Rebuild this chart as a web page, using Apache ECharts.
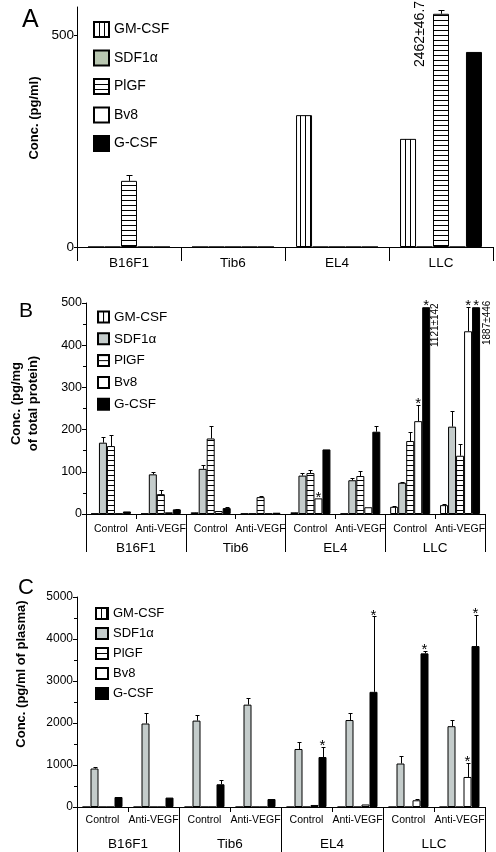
<!DOCTYPE html>
<html><head><meta charset="utf-8">
<script src="https://cdn.jsdelivr.net/npm/echarts@6/dist/echarts.min.js"></script>
<style>
html,body{margin:0;padding:0;background:#fff;width:496px;height:852px;overflow:hidden}
.p{position:absolute;left:0;width:496px}
#a{top:0;height:285px}
#b{top:285px;height:285px}
#c{top:570px;height:282px}
</style></head><body>
<div id="a" class="p"></div><div id="b" class="p"></div><div id="c" class="p"></div>
<script>
const FONT = "'Liberation Sans', Arial, sans-serif";
const seriesNames = ['GM-CSF', 'SDF1α', 'PlGF', 'Bv8', 'G-CSF'];
const cellLines = ['B16F1', 'Tib6', 'EL4', 'LLC'];
const treatments = ['Control', 'Anti-VEGF'];

// Panel A: Conc. (pg/ml)
const aGMCSF = [0, 0, 311, 255];
const aSDF1a = [0, 0, 0, 0];
const aPlGF = [156, 0, 0, 550];
const aBv8 = [0, 0, 0, 0];
const aGCSF = [0, 0, 0, 460];
const aPlGFErr = [170, null, null, 559];
const aTicks = [0, 500];
const aNote = '2462±46.7';

// Panel B: Conc. (pg/mg of total protein); order per cell line: Control, Anti-VEGF
const bGMCSF = [1, 1, 4, 1, 4, 1, 17, 21];
const bSDF1a = [169, 94, 107, 1, 91, 80, 74, 207];
const bPlGF = [161, 47, 179, 40, 97, 90, 173, 138];
const bBv8 = [1, 4, 7, 1, 37, 16, 220, 433];
const bGCSF = [6, 11, 14, 3, 153, 195, 490, 490];
const bGMCSFErr = [null, null, null, null, null, null, 18, 23];
const bSDF1aErr = [182, 100, 116, null, 96, 86, 76, 243];
const bPlGFErr = [187, 57, 209, 42, 104, 103, 194, 165];
const bBv8Err = [null, null, null, null, null, null, 258, 490];
const bGCSFErr = [null, 13, 16, null, null, 209, null, null];
// [series index, category index, anchor value]
const bStars = [[3, 4, 37], [3, 6, 258], [4, 6, 490], [3, 7, 490], [4, 7, 490]];
const bNotes = ['1121±142', '1887±446'];

// Panel C: Conc. (pg/ml of plasma)
const cGMCSF = [0, 0, 0, 0, 0, 0, 0, 0];
const cSDF1a = [916, 1988, 2057, 2437, 1381, 2071, 1035, 1924];
const cPlGF = [0, 0, 0, 0, 0, 0, 0, 0];
const cBv8 = [0, 0, 0, 0, 48, 60, 160, 715];
const cGCSF = [238, 224, 541, 190, 1190, 2742, 3658, 3832];
const cSDF1aErr = [954, 2238, 2191, 2588, 1540, 2230, 1209, 2060];
const cBv8Err = [null, null, null, null, null, null, 184, 1042];
const cGCSFErr = [250, null, 653, null, 1429, 4537, 3720, 4578];
const cStars = [[4, 4, 1429], [4, 5, 4537], [4, 6, 3720], [3, 7, 1042], [4, 7, 4578]];

const subCats = [];
cellLines.forEach(c => treatments.forEach(t => subCats.push(c + '|' + t)));

function stripe(dir, pitch) {
  const c = document.createElement('canvas');
  c.width = pitch; c.height = pitch;
  const g = c.getContext('2d');
  g.fillStyle = '#fff'; g.fillRect(0, 0, pitch, pitch);
  g.fillStyle = '#000';
  if (dir === 'v') g.fillRect(0, 0, 1, pitch); else g.fillRect(0, 0, pitch, 1);
  return { image: c, repeat: 'repeat' };
}
function styles(sdfColor, pitch) {
  return [
    { color: stripe('v', pitch), borderColor: '#000', borderWidth: 1 },
    { color: sdfColor, borderColor: '#000', borderWidth: 1 },
    { color: stripe('h', pitch), borderColor: '#000', borderWidth: 1 },
    { color: '#fff', borderColor: '#000', borderWidth: 1 },
    { color: '#000', borderColor: '#000', borderWidth: 1 }
  ];
}
function bars(values, st, bw, gap) {
  return values.map((d, i) => ({
    name: seriesNames[i], type: 'bar', data: d, barWidth: bw, barGap: gap,
    itemStyle: st[i], emphasis: { disabled: true }, z: 2
  }));
}
function errBars(sIdx, tops, vals, bw, gapFrac, cap) {
  const data = [];
  tops.forEach((t, i) => { if (t != null) data.push([i, t, vals[i]]); });
  const off = (sIdx - 2) * bw * (1 + gapFrac);
  return {
    type: 'custom', silent: true, z: 3, data,
    renderItem(p, api) {
      const top = api.coord([api.value(0), api.value(1)]);
      const base = api.coord([api.value(0), api.value(2)]);
      const x = Math.round(top[0] + off) + 0.5;
      const y = Math.round(top[1]) + 0.5;
      return { type: 'group', children: [
        { type: 'line', shape: { x1: x, y1: base[1], x2: x, y2: y }, style: { stroke: '#000', lineWidth: 1 } },
        { type: 'line', shape: { x1: x - cap, y1: y, x2: x + cap, y2: y }, style: { stroke: '#000', lineWidth: 1 } }
      ] };
    }
  };
}
function stars(list, bw, gapFrac, fs) {
  return {
    type: 'custom', silent: true, z: 4, data: list.map(s => [s[1], s[2], s[0]]),
    renderItem(p, api) {
      const pt = api.coord([api.value(0), api.value(1)]);
      const off = (api.value(2) - 2) * bw * (1 + gapFrac);
      return { type: 'text', x: pt[0] + off, y: pt[1] - 1,
        style: { text: '*', fontSize: fs, fontFamily: FONT, fill: '#000', align: 'center', verticalAlign: 'middle' } };
    }
  };
}
function rotText(text, x, y, fs) {
  return { type: 'text', x, y, rotation: Math.PI / 2,
    style: { text, fontSize: fs, fontFamily: FONT, fill: '#000', align: 'left', verticalAlign: 'middle' } };
}
const black = { color: '#000' };
const plain = v => String(v);

// ---------- Panel A ----------
const stA = styles('#b9c7b1', 5);
const optA = {
  animation: false,
  textStyle: { fontFamily: FONT },
  title: { text: 'A', left: 17, top: 3, textStyle: { fontSize: 25, fontWeight: 'normal', color: '#000', fontFamily: FONT } },
  legend: { orient: 'vertical', left: 88, top: 16, itemWidth: 15, itemHeight: 15, itemGap: 11.5, icon: 'rect',
    selectedMode: false, data: seriesNames, textStyle: { fontSize: 14, color: '#000', fontFamily: FONT } },
  grid: { left: 77, right: 3, top: 7, bottom: 38 },
  xAxis: { type: 'category', data: cellLines,
    axisLine: { show: true, lineStyle: black }, axisTick: { show: true, length: 14, lineStyle: black },
    axisLabel: { color: '#000', fontSize: 13.5, margin: 9 } },
  yAxis: { type: 'value', min: 0, max: 566, interval: 500, splitLine: { show: false },
    axisLine: { show: true, lineStyle: black },
    axisTick: { show: true, length: 3, customValues: aTicks, lineStyle: black },
    axisLabel: { color: '#000', fontSize: 13.5, margin: 3, customValues: aTicks, formatter: plain },
    name: 'Conc. (pg/ml)', nameLocation: 'middle', nameGap: 24,
    nameTextStyle: { fontWeight: 'bold', fontSize: 13, color: '#000', padding: [0, 0, 0, 18] } },
  series: [
    ...bars([aGMCSF, aSDF1a, aPlGF, aBv8, aGCSF], stA, 16, '3%'),
    errBars(2, aPlGFErr, aPlGF, 16, 0.03, 3)
  ],
  graphic: [rotText(aNote, 420, 67, 14)]
};

// ---------- Panel B ----------
const stB = styles('#c4cccb', 5);
function twoLevelX(subFs, subMargin, outerLen, outerMargin) {
  return [
    { type: 'category', data: subCats, axisLine: { show: true, lineStyle: black },
      axisTick: { show: true, length: 5, interval: 0, lineStyle: black },
      axisLabel: { interval: 0, color: '#000', fontSize: subFs, margin: subMargin, formatter: v => v.split('|')[1] } },
    { type: 'category', data: cellLines, position: 'bottom', axisLine: { show: false },
      axisTick: { show: true, length: outerLen, lineStyle: black },
      axisLabel: { color: '#000', fontSize: 13.5, margin: outerMargin } }
  ];
}
const optB = {
  animation: false,
  textStyle: { fontFamily: FONT },
  title: { text: 'B', left: 14, top: 11, textStyle: { fontSize: 21, fontWeight: 'normal', color: '#000', fontFamily: FONT } },
  legend: { orient: 'vertical', left: 92, top: 20, itemWidth: 11, itemHeight: 11, itemGap: 7.8, icon: 'rect',
    selectedMode: false, data: seriesNames, textStyle: { fontSize: 13.5, color: '#000', fontFamily: FONT } },
  grid: { left: 77, right: 11, top: 18, bottom: 56 },
  xAxis: twoLevelX(10.5, 10, 38, 27),
  yAxis: { type: 'value', min: 0, max: 500, interval: 100, splitLine: { show: false },
    axisLine: { show: true, lineStyle: black },
    axisTick: { show: true, length: 4, lineStyle: black },
    minorTick: { show: true, splitNumber: 2, length: 3, lineStyle: black },
    axisLabel: { color: '#000', fontSize: 12.5, margin: 4, formatter: plain },
    name: 'Conc. (pg/mg\nof total protein)', nameLocation: 'middle', nameGap: 44,
    nameTextStyle: { fontWeight: 'bold', fontSize: 13, lineHeight: 17, color: '#000', padding: [0, 0, 0, 10] } },
  series: [
    ...bars([bGMCSF, bSDF1a, bPlGF, bBv8, bGCSF], stB, 8, '0%'),
    errBars(0, bGMCSFErr, bGMCSF, 8, 0, 2),
    errBars(1, bSDF1aErr, bSDF1a, 8, 0, 2),
    errBars(2, bPlGFErr, bPlGF, 8, 0, 2),
    errBars(3, bBv8Err, bBv8, 8, 0, 2),
    errBars(4, bGCSFErr, bGCSF, 8, 0, 2),
    stars(bStars, 8, 0, 15)
  ],
  graphic: [rotText(bNotes[0], 435, 62, 10), rotText(bNotes[1], 487, 60, 10)]
};

// ---------- Panel C ----------
const stC = styles('#c4cccb', 5);
const optC = {
  animation: false,
  textStyle: { fontFamily: FONT },
  title: { text: 'C', left: 13, top: 2, textStyle: { fontSize: 22, fontWeight: 'normal', color: '#000', fontFamily: FONT } },
  legend: { orient: 'vertical', left: 90, top: 32, itemWidth: 12, itemHeight: 11, itemGap: 7, icon: 'rect',
    selectedMode: false, data: seriesNames, textStyle: { fontSize: 13, color: '#000', fontFamily: FONT } },
  grid: { left: 77, right: 11, top: 27, bottom: 45 },
  xAxis: twoLevelX(10.5, 8, 45, 30),
  yAxis: { type: 'value', min: 0, max: 5000, interval: 1000, splitLine: { show: false },
    axisLine: { show: true, lineStyle: black },
    axisTick: { show: true, length: 4, lineStyle: black },
    minorTick: { show: true, splitNumber: 2, length: 3, lineStyle: black },
    axisLabel: { color: '#000', fontSize: 12, margin: 4, formatter: plain },
    name: 'Conc. (pg/ml of plasma)', nameLocation: 'middle', nameGap: 49,
    nameTextStyle: { fontWeight: 'bold', fontSize: 13, color: '#000', padding: [0, 0, 0, 56] } },
  series: [
    ...bars([cGMCSF, cSDF1a, cPlGF, cBv8, cGCSF], stC, 8, '0%'),
    errBars(1, cSDF1aErr, cSDF1a, 8, 0, 2),
    errBars(3, cBv8Err, cBv8, 8, 0, 2),
    errBars(4, cGCSFErr, cGCSF, 8, 0, 2),
    stars(cStars, 8, 0, 15)
  ]
};

echarts.init(document.getElementById('a'), null, { renderer: 'canvas' }).setOption(optA);
echarts.init(document.getElementById('b'), null, { renderer: 'canvas' }).setOption(optB);
echarts.init(document.getElementById('c'), null, { renderer: 'canvas' }).setOption(optC);
</script>
</body></html>
